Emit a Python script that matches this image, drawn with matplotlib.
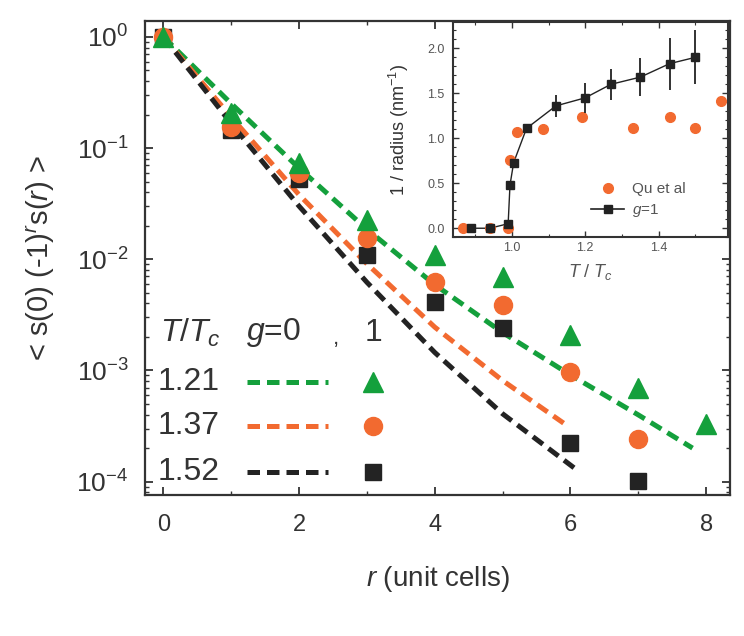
import numpy as np
import matplotlib
matplotlib.use("Agg")
import matplotlib.pyplot as plt
from matplotlib.ticker import LogLocator, MultipleLocator, NullFormatter, FixedLocator, FormatStrFormatter
from matplotlib.lines import Line2D

plt.rcParams['font.family'] = ['Liberation Sans', 'DejaVu Sans']
plt.rcParams['mathtext.fontset'] = 'custom'
plt.rcParams['mathtext.rm'] = 'Liberation Sans'
plt.rcParams['mathtext.it'] = 'Liberation Sans:italic'
plt.rcParams['mathtext.bf'] = 'Liberation Sans:bold'

# ---------------- data: main panel ----------------
temps = ['1.21', '1.37', '1.52']
colors = ['#14a03c', '#f26a30', '#232323']
markers = ['^', 'o', 's']
msizes = [15, 13, 12]

r_points = [0, 1, 2, 3, 4, 5, 6, 7, 8]
g1_121 = [1.0, 0.207, 0.073, 0.0225, 0.011, 0.0069, 0.0021, 7.0e-4, 3.3e-4]
g1_137 = [1.0, 0.155, 0.0595, 0.0155, 0.0063, 0.0039, 9.6e-4, 2.4e-4]
g1_152 = [1.0, 0.145, 0.053, 0.011, 0.0041, 0.0024, 2.2e-4, 1.02e-4]

r_line_121 = [0, 1, 2, 3, 4, 5, 6, 7, 7.8]
g0_121 = [1.0, 0.251, 0.066, 0.0186, 0.0059, 0.00219, 9.1e-4, 3.98e-4, 2.0e-4]
r_line_137 = [0, 1, 2, 3, 4, 5, 5.96]
g0_137 = [1.0, 0.19, 0.038, 0.0091, 0.00245, 8.1e-4, 3.16e-4]
r_line_152 = [0, 1, 2, 3, 4, 5, 6.06]
g0_152 = [1.0, 0.166, 0.030, 0.0062, 0.00145, 4.07e-4, 1.32e-4]

# ---------------- data: inset ----------------
qu_T = [0.866, 0.94, 0.99, 0.995, 1.014, 1.085, 1.19, 1.33, 1.43, 1.50, 1.57]
qu_val = [0.0, 0.0, 0.0, 0.76, 1.07, 1.10, 1.24, 1.11, 1.24, 1.11, 1.42]

g1_T = [0.89, 0.94, 0.99, 0.995, 1.005, 1.04, 1.12, 1.20, 1.27, 1.35, 1.43, 1.50]
g1_val = [0.0, 0.0, 0.05, 0.48, 0.73, 1.11, 1.36, 1.45, 1.60, 1.68, 1.83, 1.90]
g1_err = [0.0, 0.0, 0.0, 0.0, 0.0, 0.04, 0.12, 0.17, 0.17, 0.21, 0.29, 0.30]

text_col = '#333333'
spine_col = '#333333'

fig = plt.figure(figsize=(7.44, 6.36), dpi=100)
fig.patch.set_facecolor('white')

ax = fig.add_axes([0.195, 0.222, 0.786, 0.745])
ax.set_yscale('log')

g1_sets = [g1_121, g1_137, g1_152]
lines = [(r_line_121, g0_121), (r_line_137, g0_137), (r_line_152, g0_152)]

for (rl, yl), c in zip(lines, colors):
    ax.plot(rl, yl, color=c, lw=3.6, dashes=(2.5, 1.4), dash_capstyle='butt', zorder=2)
for ys, c, m, ms in zip(g1_sets[::-1], colors[::-1], markers[::-1], msizes[::-1]):
    ax.plot(r_points[:len(ys)], ys, ls='none', marker=m, ms=ms, color=c, mec=c, zorder=3)

ax.set_xlim(-0.27, 8.35)
ax.set_ylim(7.6e-5, 1.39)
ax.xaxis.set_major_locator(FixedLocator([0, 2, 4, 6, 8]))
ax.xaxis.set_minor_locator(FixedLocator([1, 3, 5, 7]))
ax.yaxis.set_major_locator(LogLocator(base=10, numticks=10))
ax.yaxis.set_minor_locator(LogLocator(base=10, subs=np.arange(2, 10), numticks=20))
ax.yaxis.set_minor_formatter(NullFormatter())
ax.tick_params(which='both', direction='in', top=True, right=True, colors=spine_col,
               labelcolor=text_col)
ax.tick_params(which='major', length=6, width=1.3, labelsize=17)
ax.tick_params(which='minor', length=3, width=1.0)
ax.tick_params(axis='y', which='major', pad=12, labelsize=19)
ax.tick_params(axis='x', which='major', pad=14)
for s in ax.spines.values():
    s.set_color(spine_col)
    s.set_linewidth(1.6)

ax.set_xlabel(r'$r$ (unit cells)', fontsize=20, color=text_col, labelpad=20)
ax.set_ylabel(r'< s(0) (-1)$^{r}$s($r$) >', fontsize=21, color=text_col, labelpad=14)

# legend (manual layout)
fs_leg = 23
ax.text(0.026, 0.342, r'$T/T_c$', transform=ax.transAxes, fontsize=fs_leg, color=text_col,
        va='center', ha='left')
ax.text(0.172, 0.342, r'$g$=0', transform=ax.transAxes, fontsize=fs_leg, color=text_col,
        va='center', ha='left')
ax.text(0.326, 0.33, ',', transform=ax.transAxes, fontsize=16, color=text_col,
        va='center', ha='center')
ax.text(0.39, 0.342, '1', transform=ax.transAxes, fontsize=fs_leg, color=text_col,
        va='center', ha='center')
leg_y = [0.238, 0.146, 0.049]
for t, yy, c, m, ms in zip(temps, leg_y, colors, markers, msizes):
    ax.text(0.022, yy, t, transform=ax.transAxes, fontsize=fs_leg, color=text_col,
            va='center', ha='left')
    ax.plot([0.175, 0.313], [yy, yy], transform=ax.transAxes, color=c, lw=3.6,
            dashes=(2.5, 1.4), dash_capstyle='butt')
    ax.plot([0.39], [yy], transform=ax.transAxes, marker=m, ms=ms, color=c, ls='none')

# ---------------- inset ----------------
ins = fig.add_axes([0.609, 0.627, 0.370, 0.338])
ins.set_facecolor('white')
ins.plot(g1_T, g1_val, color='#222222', lw=1.0, zorder=2)
ins.plot(qu_T, qu_val, ls='none', marker='o', ms=7, color='#f26a30', mec='#f26a30',
         zorder=3)
ins.errorbar(g1_T, g1_val, yerr=g1_err, fmt='s', ms=6, color='#222222', ecolor='#222222',
             elinewidth=1.3, capsize=0, zorder=4)
ins.set_xlim(0.84, 1.59)
ins.set_ylim(-0.1, 2.29)
ins.xaxis.set_major_locator(FixedLocator([1.0, 1.2, 1.4]))
ins.xaxis.set_minor_locator(MultipleLocator(0.1))
ins.yaxis.set_major_locator(MultipleLocator(0.5))
ins.yaxis.set_minor_locator(MultipleLocator(0.1))
ins.tick_params(which='both', direction='in', top=True, right=True, colors=spine_col,
                labelcolor='#555555', labelsize=9)
ins.tick_params(which='major', length=4, width=1.0)
ins.tick_params(which='minor', length=2, width=0.8)
ins.tick_params(axis='y', pad=6)
ins.yaxis.set_major_formatter(FormatStrFormatter('%.1f'))
ins.xaxis.set_major_formatter(FormatStrFormatter('%.1f'))
for s in ins.spines.values():
    s.set_color(spine_col)
    s.set_linewidth(1.5)
ins.set_ylabel(r'1 / radius (nm$^{-1}$)', fontsize=13, color=text_col, labelpad=12)
ins.set_xlabel(r'$T$ / $T_c$', fontsize=13, color='#555555', labelpad=6)

# inset legend
h_qu = Line2D([], [], ls='none', marker='o', ms=7, color='#f26a30')
h_g1 = Line2D([], [], ls='-', lw=1.2, marker='s', ms=6, color='#222222')
lg = ins.legend([h_qu, h_g1], ['Qu et al', r'$g$=1'], loc='lower left',
                bbox_to_anchor=(0.45, 0.02), frameon=False, fontsize=11,
                handlelength=2.2, labelspacing=0.4, handletextpad=0.5)
for t in lg.get_texts():
    t.set_color('#555555')

fig.savefig('out.png', dpi=100, facecolor='white')
